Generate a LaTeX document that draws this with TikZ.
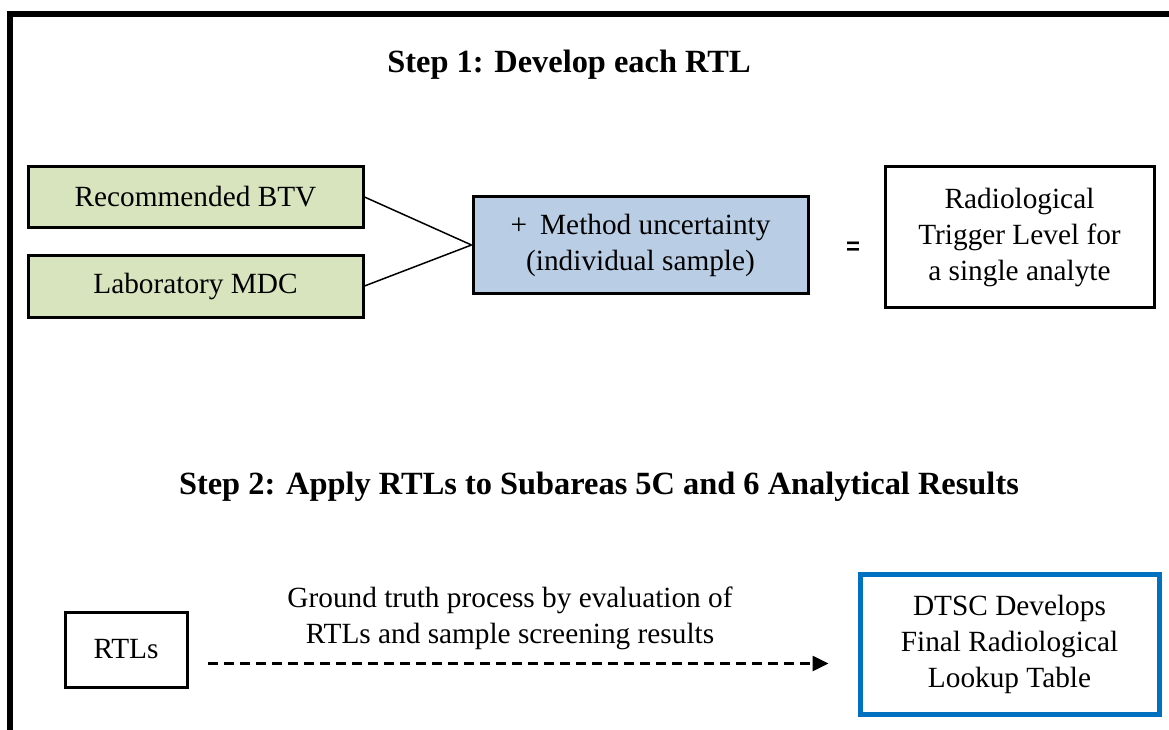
\documentclass[tikz,border=0pt]{standalone}
\usepackage{fontspec}
\setmainfont{Liberation Serif}
\newfontfamily\eqfont{Liberation Sans}
\usetikzlibrary{arrows.meta}
\definecolor{boxgreen}{HTML}{D7E4BD}
\definecolor{boxblue}{HTML}{B9CDE5}
\definecolor{edgeblue}{HTML}{0070C0}
\tikzset{
  heading/.style={font=\fontsize{32.4}{38}\selectfont\bfseries, inner sep=0pt},
  body/.style={font=\fontsize{29.3}{36}\selectfont, align=center, inner sep=0pt},
  inbox/.style={body, draw=black, line width=3pt},
  greenbox/.style={inbox, fill=boxgreen, minimum width=335pt},
  link/.style={line width=1.5pt},
  flow/.style={line width=2.6pt, dash pattern=on 10pt off 6pt, -{Triangle[length=16pt,width=15pt]}}
}
\begin{document}
\begin{tikzpicture}[x=1pt, y=-1pt]
  \useasboundingbox (0,0) rectangle (1169,730);
  \clip (0,0) rectangle (1169,730);
  % outer frame, running past the right and bottom edges
  \draw[line width=6pt] (10,14) rectangle (1200,760);

  % step 1
  \node[heading] (h1) at (569,65) {Step 1: Develop each RTL};
  \node[greenbox, minimum height=60pt] (btv) at (195.5,197) {Recommended BTV};
  \node[greenbox, minimum height=62pt] (mdc) at (195.5,286) {Laboratory MDC};
  \node[inbox, fill=boxblue, minimum width=335pt, minimum height=96pt] (mu) at (640.5,245)
    {+\hspace{0.45em}Method uncertainty\\(individual sample)};
  \node[font=\fontsize{24}{24}\selectfont\eqfont\bfseries, inner sep=0pt] (eq) at (853,248) {=};
  \node[inbox, fill=white, minimum width=269pt, minimum height=140pt] (rtl1) at (1019.5,237)
    {Radiological\\Trigger Level for\\a single analyte};
  \draw[link] (btv.east) -- (mu.west);
  \draw[link] (mdc.east) -- (mu.west);

  % step 2
  \node[heading] (h2) at (599,487) {Step 2: Apply RTLs to Subareas 5C and 6 Analytical Results};
  \node[inbox, fill=white, minimum width=122pt, minimum height=75pt] (rtls) at (126,649.5) {RTLs};
  \node[inbox, draw=edgeblue, line width=5pt, fill=white, minimum width=299pt, minimum height=140pt] (dtsc) at (1009.5,644)
    {DTSC Develops\\Final Radiological\\Lookup Table};
  \node[body] (gt) at (510,618) {Ground truth process by evaluation of\\RTLs and sample screening results};
  \coordinate (flowstart) at ([xshift=19pt, yshift=-14pt]rtls.east);
  \coordinate (flowend) at ([xshift=-29pt]dtsc.west);
  \draw[flow] (flowstart) -- (flowstart -| flowend);
\end{tikzpicture}
\end{document}
